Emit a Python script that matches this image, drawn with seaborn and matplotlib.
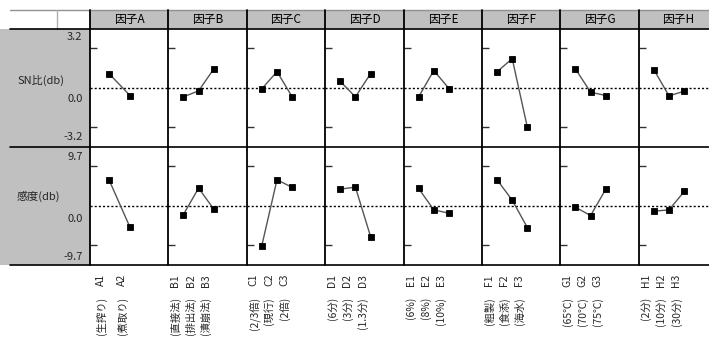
import numpy as np
import pandas as pd
import matplotlib
matplotlib.use("Agg")
import matplotlib.pyplot as plt
import matplotlib.transforms as mtransforms
from matplotlib.patches import Rectangle
import seaborn as sns

# ---------------- data ----------------
factor_names = ["因子A", "因子B", "因子C", "因子D", "因子E", "因子F", "因子G", "因子H"]
level_codes = [
    ["A1", "A2"],
    ["B1", "B2", "B3"],
    ["C1", "C2", "C3"],
    ["D1", "D2", "D3"],
    ["E1", "E2", "E3"],
    ["F1", "F2", "F3"],
    ["G1", "G2", "G3"],
    ["H1", "H2", "H3"],
]
level_labels = [
    ["(生搾り)", "(煮取り)"],
    ["(直接法)", "(排出法)", "(漬崩法)"],
    ["(2/3倍)", "(現行)", "(2倍)"],
    ["(6分)", "(3分)", "(1.3分)"],
    ["(6%)", "(8%)", "(10%)"],
    ["(粗製)", "(食添)", "(海水)"],
    ["(65℃)", "(70℃)", "(75℃)"],
    ["(2分)", "(10分)", "(30分)"],
]
sn_ratio = [
    [1.15, -0.62],
    [-0.73, -0.24, 1.53],
    [-0.08, 1.31, -0.73],
    [0.53, -0.73, 1.15],
    [-0.73, 1.40, -0.06],
    [1.29, 2.36, -3.20],
    [1.53, -0.35, -0.62],
    [1.48, -0.65, -0.27],
]
sensitivity = [
    [6.42, -5.27],
    [-2.14, 4.36, -0.82],
    [-9.80, 6.42, 4.53],
    [4.11, 4.61, -7.57],
    [4.28, -0.99, -1.81],
    [6.42, 1.40, -5.35],
    [-0.33, -2.39, 4.11],
    [-1.32, -0.99, 3.54],
]
row_labels = ["SN比(db)", "感度(db)"]
sn_ticks = [3.2, 0.0, -3.2]
sens_ticks = [9.7, 0.0, -9.7]
sn_tick_labels = ["3.2", "0.0", "-3.2"]
sens_tick_labels = ["9.7", "0.0", "-9.7"]

rows = []
for fi, fname in enumerate(factor_names):
    for li, code in enumerate(level_codes[fi]):
        rows.append(dict(factor=fname, pos=li + 1, code=code, metric=row_labels[0], value=sn_ratio[fi][li]))
        rows.append(dict(factor=fname, pos=li + 1, code=code, metric=row_labels[1], value=sensitivity[fi][li]))
df = pd.DataFrame(rows)

# ---------------- style ----------------
sns.set_style("white")
plt.rcParams["font.family"] = ["Noto Sans CJK JP", "DejaVu Sans"]

W, H = 709, 345
fig = plt.figure(figsize=(W / 100, H / 100), dpi=100)
bg = fig.add_axes([0, 0, 1, 1])
bg.set_xlim(0, W)
bg.set_ylim(H, 0)
bg.axis("off")

GRAY = "#c0c0c0"
col_left = 90.0
col_w = 78.4
header_top, header_bot = 10, 29
row_bounds = [(29, 146.7), (146.7, 265)]
row_ylims = [(-4.75, 4.75), (-14.55, 14.55)]
row_ticks = [sn_ticks, sens_ticks]
row_tick_labels = [sn_tick_labels, sens_tick_labels]
row_tick_label_y = [[37, 99, 137], [156.7, 219, 256.7]]
row_label_y = [80.7, 196.7]

# background fills
bg.add_patch(Rectangle((0, 29), 90, 236, facecolor=GRAY, edgecolor="none", zorder=0))
bg.add_patch(Rectangle((col_left, header_top), W - col_left, header_bot - header_top,
                       facecolor=GRAY, edgecolor="none", zorder=0))

# header texts
for i, fname in enumerate(factor_names):
    cx = col_left + col_w * (i + 0.5)
    bg.text(cx, 19.8, fname, ha="center", va="center", fontsize=8.5, color="black")

# row labels & tick labels
for r in range(2):
    bg.text(17, row_label_y[r], row_labels[r], ha="left", va="center", fontsize=8)
    for lab, y in zip(row_tick_labels[r], row_tick_label_y[r]):
        bg.text(82.5, y, lab, ha="right", va="center", fontsize=8)

# panels
for i, fname in enumerate(factor_names):
    n = len(level_codes[i])
    if n == 2:
        unit, first = 21.0, 19.0
    else:
        unit, first = 15.2, 15.0
    x0 = col_left + col_w * i
    for r in range(2):
        top, bot = row_bounds[r]
        ax = fig.add_axes([x0 / W, 1 - bot / H, col_w / W, (bot - top) / H])
        ax.set_facecolor("none")
        for s in ax.spines.values():
            s.set_visible(False)
        sub = df[(df.factor == fname) & (df.metric == row_labels[r])]
        ax.axhline(0, color="black", lw=1, ls=(0, (1.5, 1.5)), zorder=1)
        sns.lineplot(data=sub, x="pos", y="value", ax=ax, color="#555555", lw=1,
                     marker="s", markersize=4.6, markerfacecolor="black",
                     markeredgecolor="black", markeredgewidth=0.6, legend=False, zorder=3)
        left = 1 - first / unit
        ax.set_xlim(left, left + col_w / unit)
        ax.set_ylim(*row_ylims[r])
        ax.set_xticks([])
        ax.set_yticks([t for t in row_ticks[r] if t != 0])
        ax.tick_params(axis="y", direction="in", length=5, width=1, color="#333333",
                       labelleft=False, left=True)
        ax.set_xlabel("")
        ax.set_ylabel("")
        if r == 1:
            tr = mtransforms.blended_transform_factory(ax.transData, bg.transData) + \
                mtransforms.ScaledTranslation(-8 / 100, 0, fig.dpi_scale_trans)
            for li, (code, lab) in enumerate(zip(level_codes[i], level_labels[i])):
                fig.text(li + 1, 274, code, transform=tr, rotation=90, ha="center",
                         va="top", fontsize=7.5)
                fig.text(li + 1, 297, lab, transform=tr, rotation=90, ha="center",
                         va="top", fontsize=7.5)

# frame lines (drawn on top)
top_ax = fig.add_axes([0, 0, 1, 1])
top_ax.set_xlim(0, W)
top_ax.set_ylim(H, 0)
top_ax.axis("off")
top_ax.patch.set_alpha(0)
top_ax.plot([10, W], [header_top, header_top], color="#909090", lw=1)
top_ax.plot([57, 57], [header_top, header_bot], color="#b0b0b0", lw=1)
for y in [header_bot, row_bounds[0][1], row_bounds[1][1]]:
    top_ax.plot([10, W], [y, y], color="black", lw=1.2)
for i in range(len(factor_names)):
    x = col_left + col_w * i
    top_ax.plot([x, x], [header_top, row_bounds[1][1]], color="black", lw=1.3)

fig.savefig("out.png", dpi=100)
